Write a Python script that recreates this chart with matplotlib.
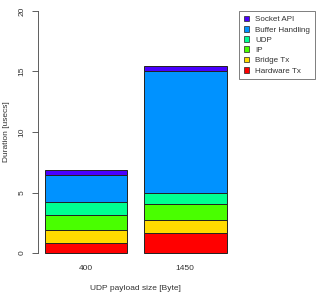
import matplotlib.pyplot as plt
import numpy as np

plt.rcParams['font.family'] = ['Liberation Sans', 'DejaVu Sans']

# payload sizes and per-stage durations (usecs), bottom to top
sizes = ["400", "1450"]
stages = ["Hardware Tx", "Bridge Tx", "IP", "UDP", "Buffer Handling", "Socket API"]
hardware_tx = [0.80, 1.63]
bridge_tx = [1.13, 1.07]
ip = [1.24, 1.32]
udp = [1.02, 0.96]
buffer_handling = [2.26, 10.09]
socket_api = [0.41, 0.38]
colors = ["#FF0000", "#FFDB00", "#49FF00", "#00FF92", "#0092FF", "#4900FF"]

series = [hardware_tx, bridge_tx, ip, udp, buffer_handling, socket_api]

W, H = 322, 294
fig = plt.figure(figsize=(W / 100, H / 100), dpi=100)
# R-style plot region: x 0.112..2.488, y -0.8..20.8
left, right = 37.7, 233.8
top, bottom = 1.3, 262.7
ax = fig.add_axes([left / W, 1 - bottom / H, (right - left) / W, (bottom - top) / H])

xpos = np.array([0.7, 1.9])
base = np.zeros(len(sizes))
for vals, c, name in zip(series, colors, stages):
    ax.bar(xpos, vals, width=1.0, bottom=base, color=c, edgecolor="#222222",
           linewidth=0.7, label=name)
    base += np.array(vals)

fs = 6
ax.set_xlim(0.112, 2.488)
ax.set_ylim(-0.8, 20.8)
for s in ["top", "right", "bottom"]:
    ax.spines[s].set_visible(False)
ax.spines["left"].set_bounds(0, 20)
ax.spines["left"].set_linewidth(0.6)
ax.spines["left"].set_color("#444444")
ax.set_yticks([0, 5, 10, 15, 20])
ax.set_yticklabels(["0", "5", "10", "15", "20"], rotation=90, va="center")
ax.tick_params(axis="y", length=4, width=0.6, color="#444444", labelsize=fs, pad=5,
               labelcolor="#333333")
ax.set_xticks(xpos)
ax.set_xticklabels(sizes)
ax.tick_params(axis="x", length=0, labelsize=fs, pad=2, labelcolor="#333333")
ax.set_xlabel("UDP payload size [Byte]", fontsize=fs, labelpad=9, color="#333333")
ax.set_ylabel("Duration [usecs]", fontsize=fs, labelpad=6, color="#333333")
ax.patch.set_alpha(0)

handles = [plt.Rectangle((0, 0), 1, 1, facecolor=c, edgecolor="#222222", linewidth=0.5)
           for c in colors][::-1]
leg = fig.legend(handles, stages[::-1], loc="upper left",
                 bbox_to_anchor=(239 / W, 1 - 11 / H), fontsize=5.8,
                 frameon=True, fancybox=False, handlelength=0.7, handleheight=0.7,
                 handletextpad=0.7, labelspacing=0.32, borderpad=0.6,
                 borderaxespad=0)
for t in leg.get_texts():
    t.set_color("#333333")
leg.get_frame().set_edgecolor("#444444")
leg.get_frame().set_linewidth(0.6)

fig.savefig("out.png", dpi=100)
